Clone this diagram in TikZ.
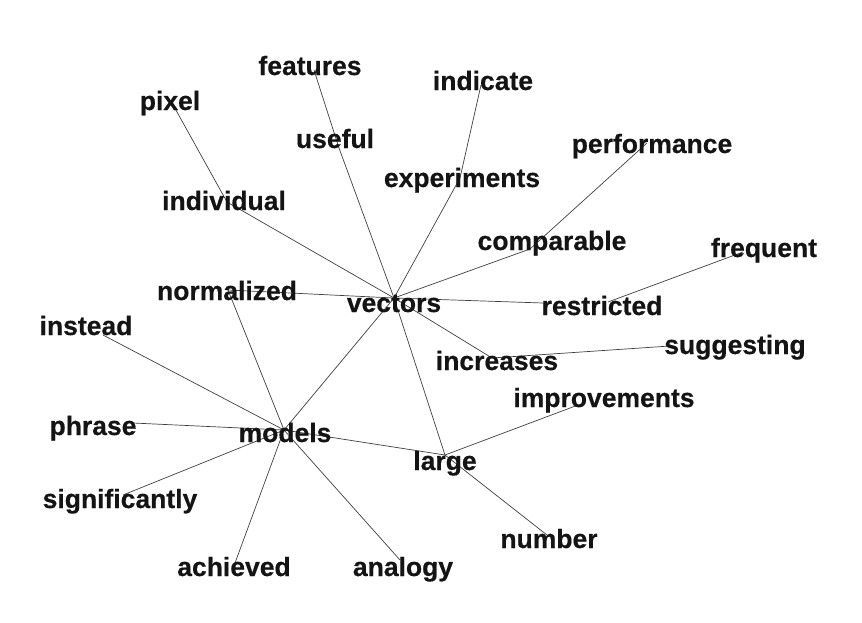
\documentclass[tikz,border=0pt]{standalone}
\usepackage{fontspec}
\setmainfont{Liberation Sans}
\newfontfamily\wordfont{Liberation Sans}[UprightFont=*-Bold,FakeBold=0.4]
\begin{document}
\begin{tikzpicture}[x=1pt,y=-1pt,
  word/.style={anchor=base,inner sep=0pt,font=\wordfont\fontsize{26.5}{30}\selectfont,text=black!92},
  edge/.style={draw=black!75,line width=0.7pt}]
\useasboundingbox[fill=white] (0,0) rectangle (862,622);
% node points
\coordinate (p-features) at (314,70);
\coordinate (p-indicate) at (481,85);
\coordinate (p-pixel) at (172,103);
\coordinate (p-useful) at (339,148);
\coordinate (p-performance) at (647,143);
\coordinate (p-experiments) at (460,178);
\coordinate (p-individual) at (227,202);
\coordinate (p-comparable) at (530,249);
\coordinate (p-frequent) at (743,252);
\coordinate (p-normalized) at (228,290);
\coordinate (p-vectors) at (394,298);
\coordinate (p-restricted) at (543,303);
\coordinate (p-restricted2) at (608,302);
\coordinate (p-instead) at (103,335);
\coordinate (p-suggesting) at (670,346);
\coordinate (p-increases) at (492,358);
\coordinate (p-improvements) at (578,405);
\coordinate (p-phrase) at (133,423);
\coordinate (p-models) at (284,430);
\coordinate (p-large) at (445,455);
\coordinate (p-significantly) at (123,495);
\coordinate (p-number) at (547,535);
\coordinate (p-achieved) at (235,563);
\coordinate (p-analogy) at (400,560);
% edges
\draw[edge] (p-pixel) -- (p-individual);
\draw[edge] (p-individual) -- (p-vectors);
\draw[edge] (p-features) -- (p-useful);
\draw[edge] (p-useful) -- (p-vectors);
\draw[edge] (p-indicate) -- (p-experiments);
\draw[edge] (p-experiments) -- (p-vectors);
\draw[edge] (p-performance) -- (p-comparable);
\draw[edge] (p-comparable) -- (p-vectors);
\draw[edge] (p-normalized) -- (p-vectors);
\draw[edge] (p-normalized) -- (p-models);
\draw[edge] (p-vectors) -- (p-restricted);
\draw[edge] (p-frequent) -- (p-restricted2);
\draw[edge] (p-vectors) -- (p-increases);
\draw[edge] (p-increases) -- (p-suggesting);
\draw[edge] (p-vectors) -- (p-models);
\draw[edge] (p-vectors) -- (p-large);
\draw[edge] (p-models) -- (p-large);
\draw[edge] (p-large) -- (p-improvements);
\draw[edge] (p-large) -- (p-number);
\draw[edge] (p-models) -- (p-instead);
\draw[edge] (p-models) -- (p-phrase);
\draw[edge] (p-models) -- (p-significantly);
\draw[edge] (p-models) -- (p-achieved);
\draw[edge] (p-models) -- (p-analogy);
% labels
\node[word] (features) at (310,75) {features};
\node[word] (indicate) at (483,90) {indicate};
\node[word] (pixel) at (170,110) {pixel};
\node[word] (useful) at (335,148) {useful};
\node[word] (performance) at (652,153) {performance};
\node[word] (experiments) at (462,187) {experiments};
\node[word] (individual) at (224,210) {individual};
\node[word] (comparable) at (552,250) {comparable};
\node[word] (frequent) at (764,257) {frequent};
\node[word] (normalized) at (227,300) {normalized};
\node[word] (vectors) at (394,312) {vectors};
\node[word] (restricted) at (602,315) {restricted};
\node[word] (instead) at (86,335) {instead};
\node[word] (suggesting) at (735,354) {suggesting};
\node[word] (increases) at (497,370) {increases};
\node[word] (improvements) at (604,407) {improvements};
\node[word] (phrase) at (93,435) {phrase};
\node[word] (models) at (285,442) {models};
\node[word] (large) at (445,470) {large};
\node[word] (significantly) at (120,508) {significantly};
\node[word] (number) at (549,548) {number};
\node[word] (achieved) at (234,576) {achieved};
\node[word] (analogy) at (403,576) {analogy};
\end{tikzpicture}
\end{document}
